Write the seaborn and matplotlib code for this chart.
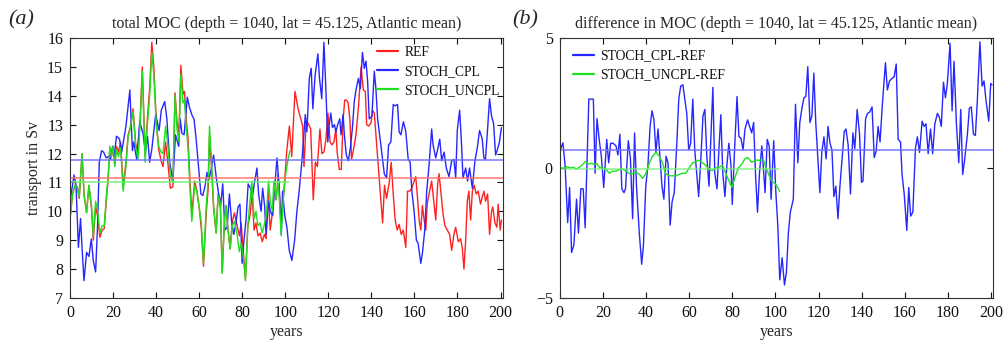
import matplotlib
matplotlib.use("Agg")
import matplotlib.pyplot as plt
import seaborn as sns

# ── data (year, transport in Sv) ────────────────────────────────────────
ref_pts = [
    (0, 9.75), (1.2, 10.6), (2.3, 10.9), (3.4, 10.85), (4.3, 10.45), (5.6, 12.0), (6.5, 10.6),
    (7.7, 9.95), (8.8, 10.9), (10, 10.1), (10.8, 9.0), (11.9, 10.15), (12.8, 9.85), (13.9, 9.1),
    (14.9, 9.35), (15.9, 9.4), (17, 10.5), (17.7, 11.1), (18.5, 12.2), (19.3, 11.9), (20, 12.25),
    (20.8, 11.6), (21.6, 12.25), (22.5, 12.05), (23.5, 12.4), (24.7, 10.85), (26, 11.7), (27, 12.65),
    (28, 12.9), (29.3, 13.55), (30.5, 12.35), (31.6, 11.95), (32.7, 13.4), (33.6, 15.0), (34.9, 11.9),
    (35.8, 13.05), (37, 14.25), (38, 15.85), (38.9, 15.05), (40.1, 13.1), (41.2, 12.15), (42.3, 11.75),
    (43.2, 11.55), (44.4, 12.4), (45.5, 11.65), (46.6, 10.8), (47.8, 10.85), (48.8, 14.1), (49.7, 13.1),
    (50.6, 12.7), (51.5, 15.05), (52.5, 14.05), (53.2, 14.15), (54, 13.15), (54.8, 12.55), (55.7, 11.1),
    (56.6, 9.9), (57.9, 11.05), (59, 10.7), (60.2, 10.0), (61, 9.4), (62, 8.1), (63.3, 9.95),
    (64.2, 10.8), (64.8, 12.6), (65.7, 11.55), (66.7, 10.1), (67.9, 9.25), (68.8, 10.6), (69.8, 10.4),
    (70.7, 7.9), (71.8, 9.75), (72.5, 10.2), (73.3, 9.45), (74.4, 8.7), (75.4, 9.65), (76.4, 9.95),
    (77.5, 9.55), (78.7, 9.15), (79.5, 9.6), (80.6, 8.55), (81.5, 7.65), (82.6, 9.5), (83.6, 9.85),
    (84.6, 10.6), (85.5, 9.35), (86.4, 9.6), (87.3, 9.15), (88.3, 9.25), (89.3, 8.95), (90.3, 9.2),
    (91.1, 9.05), (92, 10.7), (93, 9.35), (94.1, 10.0), (95, 10.8), (95.8, 10.4), (96.7, 11.3),
    (98.1, 9.6), (99.6, 10.95), (100.7, 12.1), (101.9, 12.95), (103.0, 11.9), (104.5, 14.15),
    (106.1, 13.5), (107.2, 13.2), (108.1, 12.95), (108.7, 11.55), (109.6, 12.95), (110.6, 13.05),
    (111.8, 12.85), (113.0, 10.4), (114.0, 11.7), (114.9, 11.55), (116.1, 12.85), (117.0, 12.0),
    (118.0, 12.05), (118.9, 12.5), (119.8, 13.4), (120.8, 12.4), (121.7, 12.3), (122.6, 12.4),
    (123.5, 12.85), (124.1, 12.05), (125.1, 11.45), (126.0, 11.45), (126.9, 13.2), (127.6, 13.85),
    (128.5, 13.85), (129.2, 13.75), (130.0, 13.2), (130.8, 11.8), (131.6, 12.1), (132.85, 12.65),
    (134.1, 13.7), (135.2, 15.0), (136.25, 14.2), (137.2, 14.15), (137.8, 13.0), (138.7, 12.95),
    (139.8, 13.05), (140.55, 13.5), (141.35, 13.4), (142.1, 12.65), (142.9, 11.85), (144.0, 10.7),
    (145.2, 9.6), (146.1, 10.9), (147.05, 10.45), (148.3, 11.0), (149.2, 11.7), (150.15, 10.6),
    (151.05, 9.7), (152.0, 9.35), (152.9, 9.55), (153.85, 9.2), (154.8, 9.35), (156.0, 8.75),
    (156.8, 10.7), (157.85, 10.7), (158.8, 10.8), (159.85, 11.05), (160.6, 11.2), (161.4, 10.5),
    (162.2, 9.7), (162.95, 9.35), (163.7, 10.2), (164.5, 9.7), (165.25, 9.35), (166.0, 10.3),
    (166.8, 10.6), (168.0, 11.05), (169.1, 10.25), (169.9, 9.7), (170.8, 10.95), (171.45, 11.3),
    (172.35, 10.6), (173.3, 9.9), (174.2, 9.5), (175.3, 9.35), (176.35, 9.2), (177.3, 8.65),
    (178.35, 9.2), (179.15, 9.45), (180.4, 8.95), (181.45, 9.05), (182.2, 8.75), (183.0, 8.0),
    (183.8, 9.0), (184.55, 10.35), (185.3, 10.7), (186.1, 9.7), (186.9, 10.7), (187.8, 10.9),
    (188.7, 10.6), (189.6, 10.7), (190.7, 10.25), (191.5, 10.5), (192.3, 10.7), (193.05, 10.35),
    (194.0, 10.6), (194.9, 9.2), (195.8, 10.0), (196.4, 10.15), (197.4, 9.6), (198.3, 9.45),
    (198.9, 10.25), (199.85, 9.35), (200.4, 9.7),
]

cpl_pts = [
    (0, 10.36), (1.9, 11.26), (2.8, 10.9), (3.9, 8.75), (4.9, 9.75), (5.7, 8.6), (6.5, 7.6),
    (7.7, 8.58), (8.8, 8.44), (9.9, 9.04), (10.8, 8.3), (11.9, 7.9), (12.8, 9.5), (13.6, 11.7),
    (14.7, 12.1), (15.6, 12.05), (16.8, 11.85), (18, 11.9), (18.8, 11.8), (19.8, 12.25), (20.5, 11.9),
    (21.6, 12.6), (22.4, 12.55), (23, 12.5), (24, 12.05), (25, 12.5), (26, 12.95), (27.8, 14.2),
    (29, 12.1), (29.6, 12.4), (31, 11.8), (32.4, 13.1), (33.9, 12.7), (35, 12.05), (36, 12.6),
    (37, 11.7), (38, 12.15), (39.8, 13.35), (41.4, 12.8), (42.4, 13.5), (44, 13.8), (45, 13.2),
    (46.3, 11.7), (47.8, 11.05), (49, 12.65), (50.5, 12.25), (51.2, 13.2), (52, 12.7), (53, 12.65),
    (54.5, 13.95), (55.5, 13.6), (56.8, 13.3), (57.6, 13.2), (58.6, 12.5), (60.8, 10.6), (61.7, 10.55),
    (62.8, 10.9), (63.6, 11.35), (64.5, 11.1), (65.6, 11.45), (66.7, 11.95), (67.9, 11.2),
    (68.85, 10.7), (69.9, 10.15), (70.95, 10.95), (71.95, 9.35), (73, 9.45), (74.05, 10.6), (75, 9.7),
    (76.05, 9.2), (77, 9.55), (78.05, 10.15), (78.95, 10.25), (79.95, 8.2), (80.7, 8.9), (81.75, 9.7),
    (82.75, 10.95), (83.8, 10.8), (84.85, 10.55), (85.8, 11.05), (86.85, 11.5), (87.6, 10.6),
    (88.75, 10.0), (89.5, 10.8), (90.45, 10.15), (91.05, 9.2), (92.25, 10.35), (93, 10.0),
    (94.15, 9.85), (95.05, 10.8), (96.15, 11.85), (97.2, 10.8), (98.15, 9.2), (98.75, 10.7),
    (99.7, 9.9), (100.75, 9.45), (101.85, 8.65), (103.05, 8.3), (104.35, 9.0), (105.4, 10.0),
    (106.45, 10.7), (107.75, 11.75), (108.65, 12.65), (109.3, 13.35), (110.05, 12.75), (111.15, 14.6),
    (112.05, 14.95), (112.8, 13.55), (113.85, 14.7), (115.15, 15.45), (115.9, 14.6), (116.95, 13.9),
    (117.95, 15.85), (118.85, 14.25), (119.75, 12.4), (120.4, 13.0), (121.15, 13.4), (121.9, 12.9),
    (122.85, 13.0), (123.5, 12.75), (124.35, 13.0), (125.3, 13.2), (125.9, 12.65), (126.85, 13.35),
    (127.45, 12.65), (128.35, 11.95), (129.3, 11.75), (130.25, 12.2), (131.2, 12.9), (132.05, 13.8),
    (132.85, 14.2), (133.95, 14.6), (134.9, 14.25), (135.85, 15.5), (136.7, 14.95), (137.5, 15.2),
    (138.25, 14.5), (139.0, 13.2), (140.25, 13.3), (141.35, 14.85), (142.1, 14.25), (142.9, 13.2),
    (144.4, 12.3), (146.0, 11.3), (147.05, 11.15), (148.0, 12.3), (149.05, 12.4), (150.15, 13.7),
    (151.05, 13.65), (152.15, 13.7), (152.9, 12.75), (153.7, 12.65), (154.9, 13.1), (156.0, 12.75),
    (157.1, 11.8), (158.0, 11.7), (158.8, 10.7), (159.85, 10.0), (160.9, 9.0), (161.7, 8.9),
    (162.95, 8.2), (163.7, 8.55), (164.8, 9.35), (165.7, 10.7), (166.8, 11.6), (168.0, 12.85),
    (168.65, 12.3), (169.9, 11.85), (170.8, 12.15), (171.75, 12.5), (172.65, 11.75), (173.75, 12.05),
    (174.8, 11.5), (176.05, 11.2), (177.3, 11.75), (178.35, 11.8), (179.15, 11.15), (179.9, 12.8),
    (181.0, 13.5), (181.9, 12.3), (182.55, 11.15), (183.8, 11.5), (184.7, 11.05), (185.6, 11.5),
    (186.9, 10.8), (188.1, 11.75), (189.2, 12.2), (190.25, 12.8), (191.5, 12.5), (192.25, 11.85),
    (193.0, 11.8), (193.8, 12.65), (194.9, 13.9), (195.8, 13.3), (196.75, 13.05), (197.7, 11.95),
    (198.4, 12.1), (199.5, 12.4), (200.4, 12.9),
]

uncpl_pts = [
    (0, 9.75), (1.2, 10.6), (2.3, 10.9), (3.4, 10.85), (4.3, 10.5), (5.6, 12.0), (6.5, 10.6),
    (7.7, 9.95), (8.8, 10.9), (10, 10.2), (10.8, 9.15), (11.9, 10.35), (12.8, 10.05), (13.9, 9.25),
    (14.9, 9.5), (15.9, 9.5), (17, 10.65), (17.7, 11.2), (18.5, 12.25), (19.3, 11.9), (20, 12.25),
    (20.8, 11.55), (21.6, 12.15), (22.5, 11.9), (23.5, 12.2), (24.7, 10.7), (26, 11.55), (27, 12.6),
    (28, 12.85), (29.3, 13.45), (30.5, 12.25), (31.6, 11.8), (32.7, 13.2), (33.6, 14.85), (34.9, 11.7),
    (35.8, 12.85), (37, 14.0), (38, 15.5), (38.9, 14.75), (40.1, 12.95), (41.2, 12.25), (42.3, 12.05),
    (43.2, 12.0), (44.4, 12.95), (45.5, 12.25), (46.6, 11.2), (47.8, 11.0), (48.8, 14.0), (49.7, 12.85),
    (50.6, 12.4), (51.5, 14.75), (52.5, 13.75), (53.2, 13.85), (54, 12.85), (54.8, 12.25), (55.7, 10.8),
    (56.6, 9.65), (57.9, 10.9), (59, 10.65), (60.2, 10.05), (61, 9.6), (62, 8.2), (63.3, 10.2),
    (64.2, 11.1), (64.8, 12.95), (65.7, 11.8), (66.7, 10.2), (67.9, 9.25), (68.8, 10.55), (69.8, 10.3),
    (70.7, 7.85), (71.8, 9.75), (72.5, 10.2), (73.3, 9.4), (74.4, 8.7), (75.4, 9.5), (76.4, 9.65),
    (77.5, 9.25), (78.7, 8.6), (79.5, 8.9), (80.6, 8.35), (81.5, 7.6), (82.6, 9.5), (83.6, 10.35),
    (84.5, 11.05), (85.5, 9.75), (86.4, 10.0), (87.3, 9.5), (88.3, 9.6), (89.3, 9.25), (90.3, 9.55),
    (91.3, 9.9), (92.2, 11.05), (93.1, 10.3), (94, 10.0), (94.7, 11.05), (95.6, 10.4), (96.7, 11.05),
    (97.4, 10.2), (98.1, 9.15), (99.1, 10.45), (100.2, 11.3), (101.2, 11.75), (102.1, 12.1),
]

# panel (b): differences to REF
cpl_diff_pts = [
    (0.3, 0.7), (1.5, 0.97), (2.5, 0.1), (3.7, -2.1), (4.6, -0.75), (5.5, -3.25), (6.6, -2.95),
    (7.8, -1.2), (8.7, -2.5), (9.8, -0.8), (10.9, -0.8), (11.8, -2.3), (13.5, 2.65), (14.6, 2.65),
    (15.6, 2.65), (16.4, -0.2), (17.3, 1.9), (18.3, 1.1), (19.3, 0.45), (20.4, -0.75), (21.8, 1.1),
    (22.7, 0.2), (23.6, 0.95), (24.8, 0.95), (26.1, 0.85), (27.0, 0.5), (27.9, 1.3), (28.8, -0.8),
    (29.8, -0.95), (30.5, -0.8), (31.8, 1.05), (32.8, 0.35), (33.8, -1.95), (34.7, 1.35), (35.6, -0.7),
    (36.9, -2.5), (38.0, -3.7), (38.8, -3.0), (39.9, -0.7), (40.9, 0.1), (41.9, 1.6), (42.8, 2.2),
    (43.7, 1.85), (44.6, 0.6), (45.6, 1.5), (47.4, -0.7), (48.3, -1.2), (49.3, 0.45), (50.2, 0.2),
    (51.2, -2.2), (52.1, -1.3), (53.1, -0.95), (54.3, 0.95), (55.2, 2.65), (56.1, 3.15), (57.1, 3.2),
    (58.0, 2.65), (58.9, 2.1), (59.8, 0.7), (60.7, 0.95), (61.7, 2.65), (62.6, 0.7), (63.5, -0.2),
    (64.4, -1.1), (65.5, 0.45), (66.4, 2.0), (67.3, 2.25), (68.2, 0.45), (69.2, -0.7), (70.1, 1.2),
    (71.0, 3.1), (71.9, -0.2), (72.9, -0.8), (73.8, 0.7), (74.7, 2.05), (75.6, -0.2), (76.6, -1.1),
    (77.5, 0.1), (78.4, 0.95), (79.4, 0.1), (80.0, -1.4), (81.0, 0.6), (82.2, 2.75), (83.1, 1.2),
    (84.0, 1.15), (85.0, 0.7), (85.9, 1.5), (87.1, 1.85), (88.0, 1.6), (89.0, 1.35), (89.9, 1.75),
    (90.8, -0.3), (91.7, -1.7), (92.6, -0.2), (93.7, 0.85), (94.6, -0.2), (95.2, -0.95), (96.2, 1.1),
    (97.1, 0.85), (98.0, -1.2), (99.2, 1.05), (100.2, -0.95), (101.1, -2.2), (102.0, -4.3),
    (103.1, -3.45), (104.2, -4.5), (105.1, -4.0), (106.0, -2.5), (106.9, -1.7), (108.3, -1.2),
    (109.3, 2.45), (110.4, 0.2), (111.3, 1.75), (112.3, 2.3), (113.2, 2.7), (114.1, 2.75), (115.0, 3.9),
    (116.0, 1.75), (116.9, 2.0), (117.8, 3.65), (118.7, 1.75), (119.7, 0.35), (120.6, -0.95),
    (121.5, 0.6), (122.5, 1.2), (123.5, 0.35), (124.4, 1.6), (125.3, 0.95), (126.2, 0.7),
    (127.1, -1.1), (128.0, -0.7), (129.0, -1.95), (129.9, -0.7), (131.0, 0.45), (131.9, 1.4),
    (132.7, 1.5), (133.7, 0.9), (134.8, -1.0), (135.9, 1.35), (136.8, 0.75), (137.9, 2.25),
    (139.0, 1.3), (139.9, -0.55), (140.6, -0.5), (141.8, 1.9), (142.7, 2.1), (143.7, 2.15),
    (144.8, 2.35), (145.8, 0.4), (146.7, 0.65), (147.6, 1.6), (148.5, 1.0), (149.5, 2.35),
    (151.0, 4.05), (151.9, 3.0), (152.9, 3.35), (154.1, 3.45), (155.0, 3.5), (156.0, 4.0),
    (156.9, 1.1), (158.0, 1.0), (158.7, -0.25), (159.7, -1.0), (160.9, -2.4), (161.8, -0.75),
    (162.7, -1.85), (163.7, -1.7), (164.9, 0.75), (165.8, 1.2), (166.8, 0.6), (168.0, 1.8),
    (168.9, 1.6), (169.8, 1.7), (170.8, 0.55), (171.9, 1.5), (172.9, 0.55), (173.9, 1.7),
    (175.1, 2.1), (176.0, 1.95), (176.9, 1.6), (177.9, 3.3), (178.8, 2.7), (179.7, 3.25),
    (180.95, 4.8), (181.9, 2.2), (182.8, 4.1), (183.9, 1.7), (185.0, 0.2), (185.9, 2.25),
    (186.8, -0.25), (187.7, 0.3), (189.0, 1.3), (189.9, 2.3), (190.8, 2.35), (191.8, 1.3),
    (192.7, 1.25), (193.6, 2.6), (194.8, 4.85), (195.8, 3.15), (196.7, 3.35), (197.6, 2.6),
    (198.9, 1.8), (199.8, 3.25), (200.4, 3.2),
]

uncpl_diff_pts = [
    (0, 0.0), (2, 0.0), (3.7, 0.05), (4.8, 0.0), (6, 0.03), (7.7, -0.03), (9.2, 0.03), (10.8, 0.15),
    (12, 0.25), (13.1, 0.15), (14.6, 0.18), (16.2, 0.14), (17.2, 0.17), (18.5, 0.02), (20, 0.0),
    (21.5, -0.05), (23, -0.2), (24.6, -0.12), (26.2, -0.12), (27.7, -0.05), (29.3, -0.05),
    (30.8, -0.12), (32.3, -0.22), (33.9, -0.22), (35.4, -0.15), (37, -0.25), (38.5, -0.4), (40, -0.2),
    (41.6, 0.2), (43, 0.45), (44.7, 0.6), (46.2, 0.45), (47.7, 0.2), (49, -0.2), (50.8, -0.3),
    (52.3, -0.3), (53.9, -0.3), (55.4, -0.25), (56.9, -0.2), (58.5, -0.2), (60, 0.0), (61.6, 0.2),
    (63.1, 0.25), (64.6, 0.3), (66.2, 0.2), (67.7, 0.1), (69.2, -0.05), (70.8, -0.1), (72.3, 0.0),
    (73.9, 0.03), (75.4, 0.1), (77, -0.2), (78.5, -0.5), (79.8, -0.75), (81.3, -0.35), (82.8, 0.0),
    (84.4, 0.15), (85.8, 0.35), (87.2, 0.4), (89, 0.22), (90.8, 0.3), (92.9, 0.3), (94.4, 0.32),
    (95.5, 0.03), (96.8, -0.23), (98.3, -0.5), (99.8, -0.6), (101.1, -0.75), (102, -0.9),
]

# time means (horizontal lines)
ref_mean, cpl_mean, uncpl_mean = 11.15, 11.78, 11.02
cpl_diff_mean, uncpl_diff_mean = 0.7, -0.05
uncpl_end = 101.8

RED, BLUE, GREEN = "#ff2020", "#2626ff", "#1ee01e"

sns.set_style("ticks")
plt.rcParams["font.family"] = ["Liberation Serif", "DejaVu Serif"]
plt.rcParams["axes.edgecolor"] = "#333333"
plt.rcParams["axes.linewidth"] = 0.8


def draw(ax, pts, color, label):
    x, y = zip(*pts)
    sns.lineplot(x=list(x), y=list(y), color=color, lw=1.0, label=label,
                 estimator=None, sort=False, ax=ax)


def style(ax):
    ax.set_xlim(0, 201)
    ax.set_xticks(range(0, 201, 20))
    ax.tick_params(direction="in", top=True, right=True, length=4, width=0.8,
                   labelsize=11.5, colors="#111111", pad=5)
    for s in ax.spines.values():
        s.set_visible(True)
    ax.set_xlabel("years", fontsize=11.5, labelpad=2)


def legend(ax, loc, anchor):
    leg = ax.legend(loc=loc, bbox_to_anchor=anchor, frameon=False, fontsize=9.8,
                    handlelength=1.55, handletextpad=0.45, labelspacing=0.45,
                    borderaxespad=0, borderpad=0)
    for h in leg.legend_handles:
        h.set_linewidth(1.6)
    for t in leg.get_texts():
        t.set_color("#111111")


fig = plt.figure(figsize=(10.05, 3.42), dpi=100)
ax_a = fig.add_axes([70 / 1005, 1 - 298 / 342, 432.7 / 1005, 260 / 342])
ax_b = fig.add_axes([559.7 / 1005, 1 - 298 / 342, 433.6 / 1005, 260 / 342])

# ── (a) total MOC ──────────────────────────────────────────────────────
draw(ax_a, ref_pts, RED, "REF")
draw(ax_a, cpl_pts, BLUE, "STOCH_CPL")
draw(ax_a, uncpl_pts, GREEN, "STOCH_UNCPL")
ax_a.hlines(cpl_mean, 0, 201, color="#7070ff", lw=1.3, alpha=0.8)
ax_a.hlines(ref_mean, 0, 201, color="#ff7070", lw=1.3, alpha=0.8)
ax_a.hlines(uncpl_mean, 0, uncpl_end, color="#70ee70", lw=1.3, alpha=0.8)
style(ax_a)
ax_a.set_ylim(7, 16)
ax_a.set_yticks(range(7, 17))
ax_a.set_ylabel("transport in Sv", fontsize=11.5, labelpad=4)
ax_a.set_title("total MOC (depth = 1040, lat = 45.125, Atlantic mean)", fontsize=11.5, pad=7)
legend(ax_a, "upper right", (0.994, 0.97))

# ── (b) difference ─────────────────────────────────────────────────────
draw(ax_b, cpl_diff_pts, BLUE, "STOCH_CPL-REF")
draw(ax_b, uncpl_diff_pts, GREEN, "STOCH_UNCPL-REF")
ax_b.hlines(cpl_diff_mean, 0, 201, color="#7070ff", lw=1.3, alpha=0.8)
ax_b.hlines(uncpl_diff_mean, 0, uncpl_end, color="#70ee70", lw=1.1, alpha=0.8)
style(ax_b)
ax_b.set_ylim(-5, 5)
ax_b.set_yticks([-5, 0, 5])
ax_b.set_yticklabels(["\u22125", "0", "5"])
ax_b.set_ylabel("")
ax_b.set_title("difference in MOC (depth = 1040, lat = 45.125, Atlantic mean)", fontsize=11.5, pad=7)
legend(ax_b, "upper left", (0.031, 0.956))

fig.text(8 / 1005, 1 - 24 / 342, "(a)", fontsize=16, style="italic")
fig.text(512 / 1005, 1 - 24 / 342, "(b)", fontsize=16, style="italic")

fig.savefig("out.png", dpi=100)
